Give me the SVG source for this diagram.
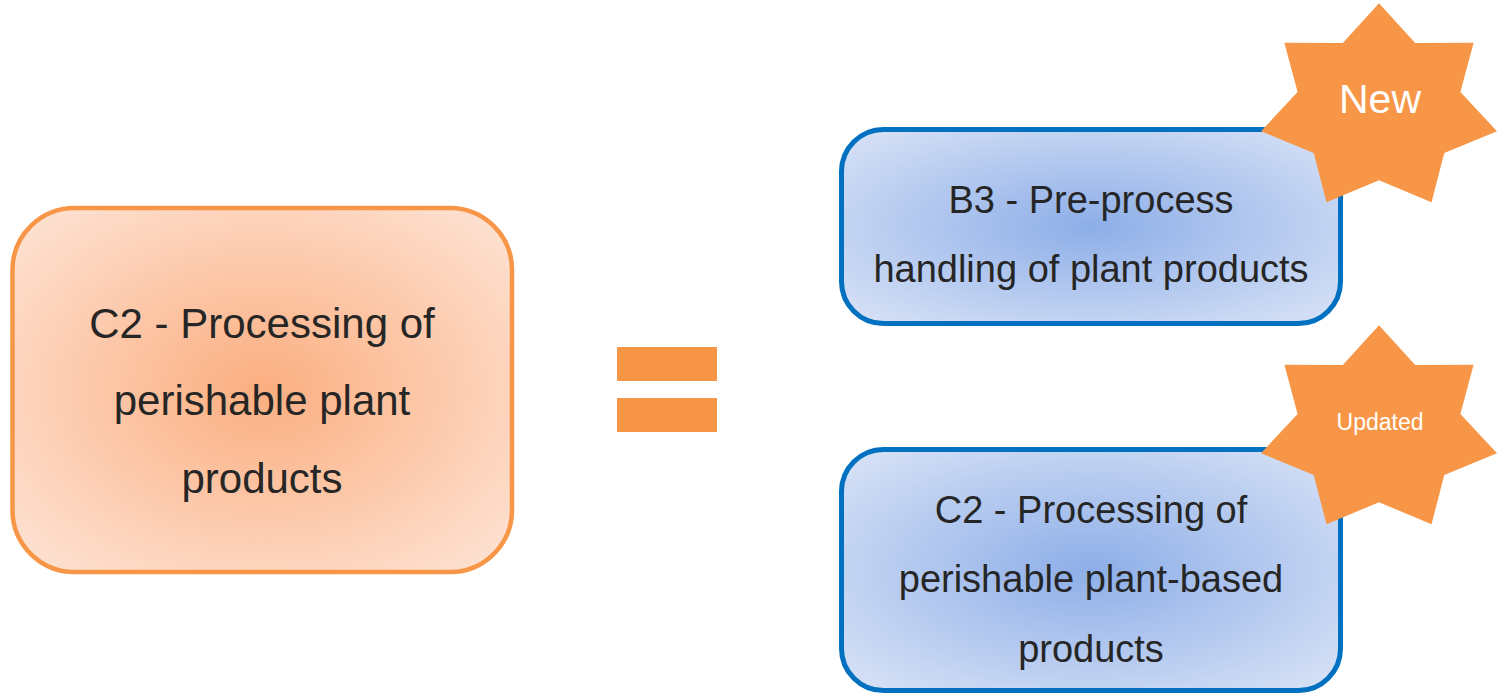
<svg xmlns="http://www.w3.org/2000/svg" xmlns:xlink="http://www.w3.org/1999/xlink" width="1497" height="695" viewBox="0 0 1497 695">
  <style>
    .t { font-family: "Liberation Sans", Arial, sans-serif; fill: #262626; text-anchor: middle; }
    .big { font-size: 42px; }
    .mid { font-size: 38px; }
    .star { fill: #F79646; }
    .st { font-family: "Liberation Sans", Arial, sans-serif; fill: #FFFFFF; text-anchor: middle; }
    .obox { fill: url(#og); stroke: #F79646; stroke-width: 4.5; }
    .bbox { fill: url(#bg); stroke: #0070C0; stroke-width: 5; }
    .eq { fill: #F79646; }
  </style>
  <defs>
    <radialGradient id="og" cx="50%" cy="50%" r="72%">
      <stop offset="0" stop-color="#FBAE80"/>
      <stop offset="1" stop-color="#FEE6D9"/>
    </radialGradient>
    <radialGradient id="bg" cx="50%" cy="50%" r="72%">
      <stop offset="0" stop-color="#8DAEE8"/>
      <stop offset="1" stop-color="#DCE5F7"/>
    </radialGradient>
    <polygon id="star7" points="0,-104.7 36.2,-65.1 94.6,-65.3 81.4,-16.1 118,23.3 65.3,45 52.5,94.3 0,72.2 -52.5,94.3 -65.3,45 -118,23.3 -81.4,-16.1 -94.6,-65.3 -36.2,-65.1"/>
  </defs>

  <g id="connectors"></g>

  <g id="node-left">
    <rect class="obox" x="12.5" y="208" width="499.5" height="364" rx="62" ry="62"/>
    <text class="t big" x="262" y="338">C2 - Processing of</text>
    <text class="t big" x="262" y="415">perishable plant</text>
    <text class="t big" x="262" y="493">products</text>
  </g>

  <g id="equals">
    <rect class="eq" x="617" y="347" width="100" height="34"/>
    <rect class="eq" x="617" y="398" width="100" height="34"/>
  </g>

  <g id="node-b3">
    <rect class="bbox" x="841.5" y="129.5" width="499" height="194" rx="42" ry="42"/>
    <text class="t mid" x="1091" y="213">B3 - Pre-process</text>
    <text class="t mid" x="1091" y="282">handling of plant products</text>
  </g>

  <g id="node-c2">
    <rect class="bbox" x="841.5" y="449.5" width="499" height="241" rx="42" ry="42"/>
    <text class="t mid" x="1091" y="523">C2 - Processing of</text>
    <text class="t mid" x="1091" y="592">perishable plant-based</text>
    <text class="t mid" x="1091" y="662">products</text>
  </g>

  <g id="star-new">
    <use xlink:href="#star7" class="star" transform="translate(1379,108)"/>
    <text class="st" x="1380" y="113" font-size="41">New</text>
  </g>

  <g id="star-updated">
    <use xlink:href="#star7" class="star" transform="translate(1379,430)"/>
    <text class="st" x="1380" y="430" font-size="23">Updated</text>
  </g>
</svg>
